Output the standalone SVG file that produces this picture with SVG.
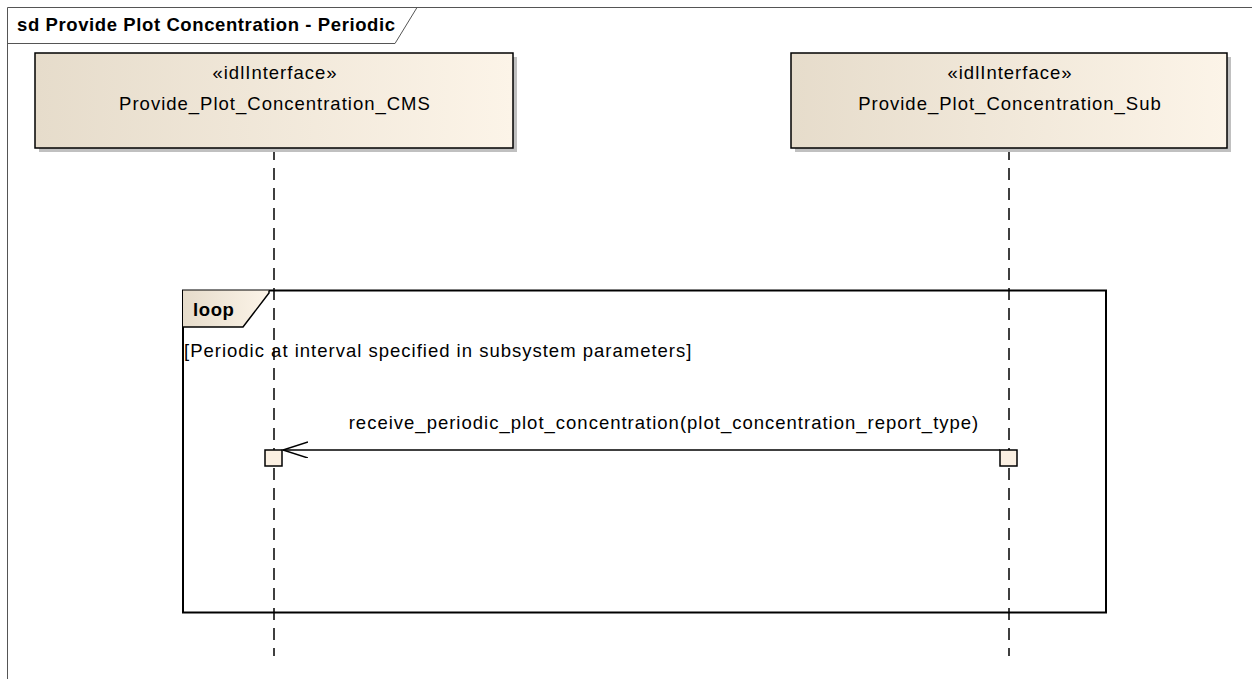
<svg xmlns="http://www.w3.org/2000/svg" width="1252" height="679" viewBox="0 0 1252 679">
<style>
text{font-family:"Liberation Sans",Arial,sans-serif;fill:#000}
.t{font-size:18.5px;letter-spacing:1px}
.b{font-size:18.5px;font-weight:bold;letter-spacing:0.6px}
.box{stroke:#000;stroke-width:1.5}
.ll{stroke:#000;stroke-width:1.5;stroke-dasharray:12 8;fill:none}
.act{fill:#fbf0e2;stroke:#000;stroke-width:1.5}
</style>
<defs>
<linearGradient id="g" x1="0" y1="0" x2="1" y2="0">
<stop offset="0" stop-color="#e6dccb"/>
<stop offset="1" stop-color="#fcf4e8"/>
</linearGradient>
<marker id="open" markerWidth="30" markerHeight="20" refX="25" refY="8" orient="auto" markerUnits="userSpaceOnUse">
<path d="M0,0 L25,8 L0,16" fill="none" stroke="#000" stroke-width="1.5"/>
</marker>
</defs>
<rect width="1252" height="679" fill="#fff"/>
<g id="frame">
<path d="M7.5,679 L7.5,7.5 L1252,7.5" fill="none" stroke="#555" stroke-width="1"/>
<path d="M7.5,43.5 L395,43.5 L417,7.5" fill="none" stroke="#555" stroke-width="1"/>
<text class="b" x="17" y="31">sd Provide Plot Concentration - Periodic</text>
</g>
<g id="lifelines">
<line class="ll" x1="274" y1="148" x2="274" y2="656"/>
<line class="ll" x1="1009" y1="148" x2="1009" y2="656"/>
</g>
<g id="cms">
<rect x="39" y="57" width="478" height="95" fill="#c0c0c0"/>
<rect class="box" x="35" y="53" width="478" height="95" fill="url(#g)"/>
<text class="t" x="275" y="79" text-anchor="middle">«idlInterface»</text>
<text class="t" x="275" y="110" text-anchor="middle">Provide_Plot_Concentration_CMS</text>
</g>
<g id="sub">
<rect x="795" y="57" width="436" height="95" fill="#c0c0c0"/>
<rect class="box" x="791" y="53" width="436" height="95" fill="url(#g)"/>
<text class="t" x="1010" y="79" text-anchor="middle">«idlInterface»</text>
<text class="t" x="1010" y="110" text-anchor="middle">Provide_Plot_Concentration_Sub</text>
</g>
<g id="loop">
<rect x="183" y="290.5" width="923" height="322" fill="none" stroke="#000" stroke-width="2"/>
<path d="M183,290.5 L269,290.5 L269,293 L243,327 L183,327 Z" fill="url(#g)" stroke="none"/>
<path d="M183,327 L243,327 L269,293 L269,290.5" fill="none" stroke="#000" stroke-width="1.5"/>
<text class="b" x="193" y="316">loop</text>
<text class="t" x="184" y="357">[Periodic at interval specified in subsystem parameters]</text>
</g>
<g id="connectors">
<line x1="1000" y1="450" x2="283" y2="450" stroke="#000" stroke-width="1.5" marker-end="url(#open)"/>
<text class="t" x="664" y="429" text-anchor="middle">receive_periodic_plot_concentration(plot_concentration_report_type)</text>
</g>
<g id="activations">
<rect class="act" x="265" y="450" width="17" height="16"/>
<rect class="act" x="1000" y="450" width="17" height="16"/>
</g>
</svg>
